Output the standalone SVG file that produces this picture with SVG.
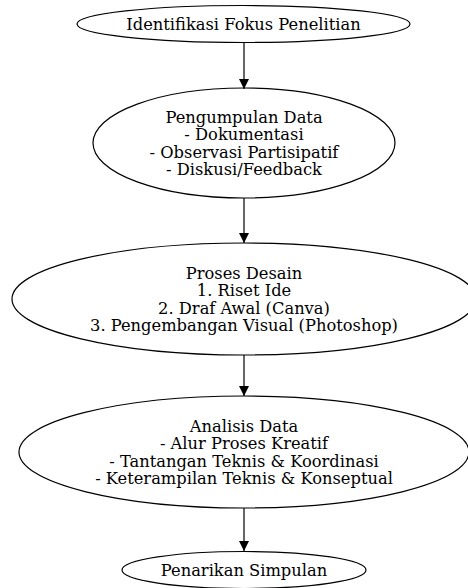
<svg xmlns="http://www.w3.org/2000/svg" width="468" height="588" viewBox="0 0 468 588">
<style>
.n ellipse{fill:none;stroke:#000;stroke-width:1.2}
.n text{font-family:"DejaVu Serif",serif;font-size:16.3px;text-anchor:middle;fill:#000}
.e line{stroke:#000;stroke-width:1.2}
</style>
<defs>
<marker id="ah" viewBox="0 0 10 10" refX="10" refY="5" markerWidth="10" markerHeight="10" markerUnits="userSpaceOnUse" orient="auto">
<path d="M0,0 L10,5 L0,10 Z" fill="#000"/>
</marker>
</defs>
<rect width="468" height="588" fill="#fff"/>
<g class="e">
<line x1="244" y1="42" x2="244" y2="89" marker-end="url(#ah)"/>
<line x1="244" y1="198" x2="244" y2="243" marker-end="url(#ah)"/>
<line x1="244" y1="355" x2="244" y2="396" marker-end="url(#ah)"/>
<line x1="244" y1="508" x2="244" y2="551" marker-end="url(#ah)"/>
</g>
<g class="n" id="n1">
<ellipse cx="243.5" cy="24" rx="166.5" ry="18.5"/>
<text x="243.5" y="29.5">Identifikasi Fokus Penelitian</text>
</g>
<g class="n" id="n2">
<ellipse cx="244" cy="143" rx="151" ry="55"/>
<text x="244" y="122.5">Pengumpulan Data</text>
<text x="244" y="140">- Dokumentasi</text>
<text x="244" y="157.5">- Observasi Partisipatif</text>
<text x="244" y="175">- Diskusi/Feedback</text>
</g>
<g class="n" id="n3">
<ellipse cx="244" cy="299" rx="232" ry="56"/>
<text x="244" y="278.5">Proses Desain</text>
<text x="244" y="296">1. Riset Ide</text>
<text x="244" y="313.5">2. Draf Awal (Canva)</text>
<text x="244" y="331">3. Pengembangan Visual (Photoshop)</text>
</g>
<g class="n" id="n4">
<ellipse cx="244" cy="452" rx="225" ry="56"/>
<text x="244" y="431.5">Analisis Data</text>
<text x="244" y="449">- Alur Proses Kreatif</text>
<text x="244" y="466.5">- Tantangan Teknis &amp; Koordinasi</text>
<text x="244" y="484">- Keterampilan Teknis &amp; Konseptual</text>
</g>
<g class="n" id="n5">
<ellipse cx="244" cy="570" rx="122" ry="18.5"/>
<text x="244" y="575.5">Penarikan Simpulan</text>
</g>
</svg>
